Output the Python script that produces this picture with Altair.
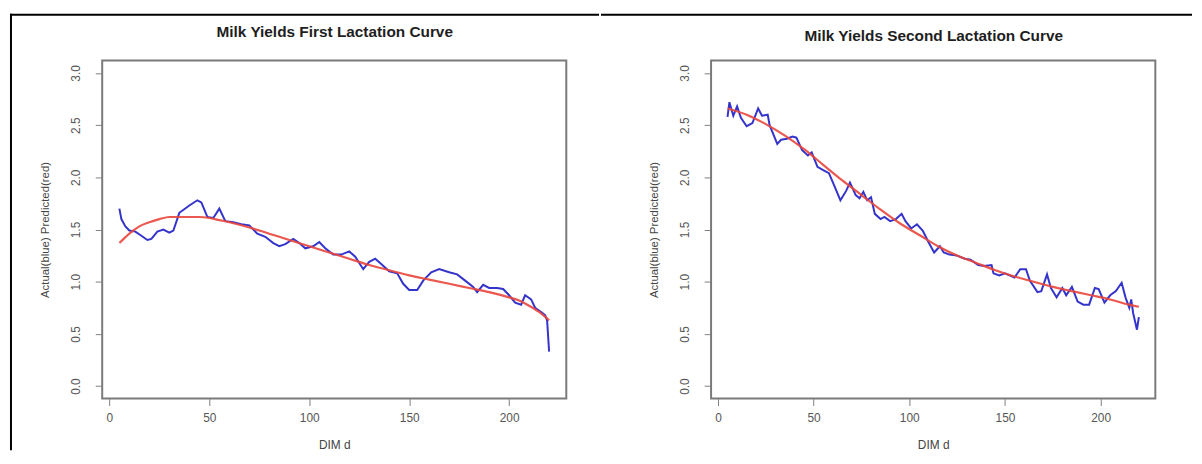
import altair as alt
import pandas as pd

# ---------------- data ----------------
X_TICKS = [0, 50, 100, 150, 200]
Y_TICKS = [0.0, 0.5, 1.0, 1.5, 2.0, 2.5, 3.0]

# First lactation - actual (blue)
act1_day = [5, 6, 8, 10, 13, 16, 19, 21, 24, 27, 30, 32, 35, 40, 44, 46, 49, 52, 55, 58,
            62, 66, 70, 74, 78, 82, 85, 88, 92, 95, 98, 102, 105, 108, 112, 116, 120, 123,
            127, 130, 133, 136, 140, 144, 147, 150, 154, 157, 161, 165, 170, 174, 178, 182,
            184, 187, 190, 194, 197, 200, 203, 206, 208, 211, 213, 216, 218, 219, 220]
act1_val = [1.70, 1.60, 1.53, 1.49, 1.48, 1.44, 1.40, 1.41, 1.48, 1.50, 1.47, 1.49, 1.66,
            1.73, 1.78, 1.76, 1.62, 1.61, 1.70, 1.58, 1.57, 1.55, 1.54, 1.46, 1.43, 1.37,
            1.34, 1.36, 1.41, 1.37, 1.32, 1.34, 1.38, 1.32, 1.26, 1.26, 1.29, 1.24, 1.12,
            1.19, 1.22, 1.17, 1.10, 1.08, 0.98, 0.92, 0.92, 1.01, 1.09, 1.12, 1.09, 1.07,
            1.01, 0.95, 0.90, 0.97, 0.94, 0.94, 0.93, 0.87, 0.80, 0.78, 0.87, 0.83, 0.75,
            0.71, 0.68, 0.63, 0.33]

# First lactation - predicted (red)
pred1_day = [5, 10, 15, 20, 25, 30, 35, 40, 45, 50, 55, 60, 70, 80, 90, 100, 110, 120,
             130, 140, 150, 160, 170, 180, 190, 200, 205, 210, 215, 220]
pred1_val = [1.37, 1.46, 1.53, 1.57, 1.60, 1.62, 1.62, 1.62, 1.62, 1.61, 1.59, 1.57, 1.52,
             1.46, 1.40, 1.34, 1.28, 1.22, 1.16, 1.11, 1.06, 1.02, 0.98, 0.94, 0.90, 0.85,
             0.82, 0.77, 0.71, 0.63]

# Second lactation - actual (blue)
act2_day = [5, 6, 8, 10, 12, 15, 18, 21, 23, 26, 27, 31, 33, 36, 39, 41, 44, 47, 49, 52,
            55, 58, 61, 64, 67, 69, 72, 74, 76, 78, 80, 82, 85, 87, 90, 93, 96, 98, 101,
            104, 107, 110, 113, 116, 118, 121, 125, 129, 132, 136, 139, 143, 144, 147, 150,
            155, 158, 161, 163, 167, 169, 172, 174, 177, 180, 182, 185, 188, 191, 194, 197,
            199, 202, 205, 208, 211, 213, 215, 216, 217, 219, 220]
act2_val = [2.58, 2.72, 2.59, 2.68, 2.57, 2.49, 2.52, 2.66, 2.59, 2.60, 2.50, 2.32, 2.36,
            2.37, 2.39, 2.38, 2.26, 2.21, 2.24, 2.10, 2.07, 2.04, 1.91, 1.78, 1.87, 1.95,
            1.83, 1.80, 1.86, 1.78, 1.81, 1.65, 1.60, 1.62, 1.58, 1.60, 1.65, 1.58, 1.51,
            1.55, 1.49, 1.38, 1.28, 1.34, 1.28, 1.26, 1.25, 1.22, 1.21, 1.16, 1.15, 1.16,
            1.08, 1.06, 1.08, 1.04, 1.12, 1.12, 1.01, 0.90, 0.91, 1.07, 0.94, 0.85, 0.94,
            0.87, 0.95, 0.81, 0.78, 0.78, 0.94, 0.93, 0.80, 0.87, 0.91, 0.99, 0.85, 0.75,
            0.83, 0.70, 0.54, 0.66]

# Second lactation - predicted (red)
pred2_day = [5, 15, 25, 35, 45, 55, 65, 75, 85, 95, 105, 115, 125, 135, 145, 155, 165, 175,
             185, 195, 205, 215, 220]
pred2_val = [2.66, 2.60, 2.51, 2.40, 2.27, 2.12, 1.97, 1.83, 1.69, 1.56, 1.45, 1.34, 1.25,
             1.18, 1.11, 1.05, 1.00, 0.95, 0.91, 0.87, 0.83, 0.78, 0.76]

TITLES = ["Milk Yields First Lactation Curve", "Milk Yields Second Lactation Curve"]
X_TITLE = "DIM d"
Y_TITLE = "Actual(blue) Predicted(red)"

BLUE = "#3434cc"
RED = "#e8463c"
FONT = "Liberation Sans"
H = 341


def panel(title, a_d, a_v, p_d, p_v, W, title_y, frame):
    act = pd.DataFrame({"d": a_d, "v": a_v})
    pred = pd.DataFrame({"d": p_d, "v": p_v})
    xs = alt.Scale(domain=[-3.6, 228.6], nice=False, zero=False)
    ys = alt.Scale(domain=[-0.12, 3.12], nice=False, zero=False)
    yax = alt.Axis(values=Y_TICKS, format=".1f", title=Y_TITLE, grid=False, domain=False,
                   tickSize=7, tickColor="#808080", labelAngle=270, labelAlign="center",
                   labelBaseline="bottom", labelPadding=13, labelFontSize=12,
                   labelColor="#555555", labelFont=FONT, titleFont=FONT,
                   titleFontSize=11.5, titleFontWeight="normal", titleColor="#444444",
                   titleAngle=270, titleX=-57, titleY=H / 2, titleAlign="center",
                   titleBaseline="middle")
    xax = alt.Axis(values=X_TICKS, format="d", title=X_TITLE, grid=False, domain=False,
                   tickSize=7, tickColor="#808080", labelPadding=7, labelFontSize=12,
                   labelColor="#555555", labelFont=FONT, labelAngle=0, titleFont=FONT,
                   titleFontSize=12, titleFontWeight="normal", titleColor="#444444",
                   titleX=W / 2, titleY=46, titleAlign="center", titleBaseline="middle")
    tax = alt.Axis(orient="top", title=title, labels=False, ticks=False, domain=False,
                   grid=False, titleFont=FONT, titleFontSize=15.5, titleFontWeight="bold",
                   titleColor="#1e1e1e", titleX=W / 2, titleY=title_y, titleAlign="center",
                   titleBaseline="middle")

    blue = alt.Chart(act).mark_line(color=BLUE, strokeWidth=2).encode(
        x=alt.X("d:Q", scale=xs, axis=xax), y=alt.Y("v:Q", scale=ys, axis=yax))
    red = alt.Chart(pred).mark_line(color=RED, strokeWidth=2.2, interpolate="monotone",
                                    opacity=0.9).encode(
        x=alt.X("d:Q", scale=xs, axis=None), y=alt.Y("v:Q", scale=ys, axis=yax))
    top = alt.Chart(pred).mark_line(opacity=0).encode(
        x=alt.X("d:Q", scale=xs, axis=tax), y=alt.Y("v:Q", scale=ys, axis=yax))

    one = pd.DataFrame({"k": [0]})
    layers = [blue, red, top]
    for r in frame:
        enc = {k: alt.value(v) for k, v in r.items()}
        layers.append(alt.Chart(one).mark_rule(color="black", strokeWidth=2,
                                               strokeCap="square").encode(**enc))

    return alt.layer(*layers).resolve_axis(x="independent").properties(width=W, height=H)


left = panel(TITLES[0], act1_day, act1_val, pred1_day, pred1_val, 468, -29,
             [dict(x=-92, x2=500, y=-46), dict(x=-92, y=-46, y2=392)])
right = panel(TITLES[1], act2_day, act2_val, pred2_day, pred2_val, 448, -25,
              [dict(x=-110, x2=484, y=-46)])

chart = alt.hconcat(left, right, spacing=-2).properties(
    padding={"left": 0, "top": 2, "right": 0, "bottom": 0},
    background="white",
).configure_view(stroke="#7a7a7a", strokeWidth=2)

chart.save("out.html", embed_options={"renderer": "svg", "actions": False})
